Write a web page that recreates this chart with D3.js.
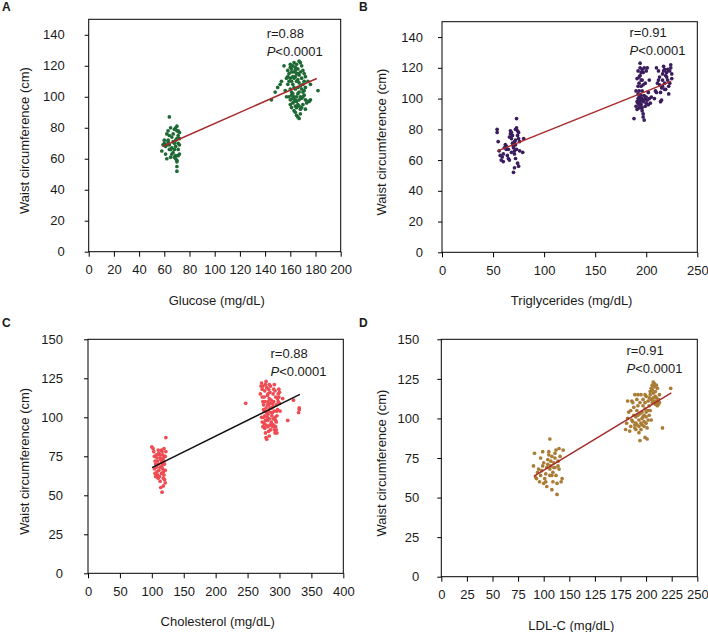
<!DOCTYPE html>
<html><head><meta charset="utf-8">
<script src="https://cdn.jsdelivr.net/npm/d3@7"></script>
<style>body{margin:0;background:#fff}svg{display:block}text{font-family:"Liberation Sans",Arial,sans-serif;fill:#1a1a1a}</style>
</head><body><svg id="c" width="708" height="632"></svg>
<script>
// ---------- data ----------
const glucosePts = [[64,87],[60,70],[59,69],[58,65],[61,68],[63,72],[62,76],[63,78],[65,80],[64,75],[66,74],[67,71],[68,70],[69,72],[70,73],[71,75],[70,78],[69,80],[70,81],[72,77],[71,70],[72,69],[68,66],[67,64],[66,63],[65,61],[62,60],[69,60],[70,59],[70,58],[71,62],[72,63],[70,55],[70,52],[66,67],[64,69],[60,72],[61,63],[63,71],[68,79],[71,78],[72,73],[69,68],[67,76],[65,66],[64,66],[62,69],[71,66],[69,62],[68,61],
[145,98],[148,103],[150,106],[152,108],[153,110],[156,104],[157,100],[155,120],[158,117],[159,115],[160,121],[161,118],[162,120],[163,122],[164,119],[165,121],[166,118],[167,123],[168,122],[169,120],[170,117],[171,115],[172,113],[174,110],[176,108],[182,104],[160,112],[161,110],[162,108],[163,112],[164,113],[165,110],[166,111],[167,109],[168,107],[169,105],[170,100],[171,101],[172,98],[174,97],[176,98],[160,105],[161,103],[162,102],[163,100],[164,98],[165,97],[166,95],[167,94],[168,92],[169,93],[170,95],[172,92],[173,96],[160,95],[161,93],[162,96],[163,91],[164,90],[165,88],[166,87],[167,86],[168,89],[165,100],[166,102],[167,103],[164,105],[163,106],[162,113],[161,116],[160,119],[159,110],[158,108],[159,100],[160,98],[161,101],[166,115],[167,114],[168,116],[169,112],[170,108],[171,110],[172,106],[163,116],[164,117],[165,115],[166,106],[167,98],[168,100],[169,99],[162,99],[163,97],[164,94],[165,93],[170,103],[171,104],[175,97],[158,113],[157,112]];
const triglyceridesPts = [[54,80],[54,78],[55,72],[56,66],[57,63],[58,60],[59,62],[60,64],[60,59],[61,68],[62,70],[63,69],[63,67],[64,63],[65,61],[66,60],[66,75],[67,77],[67,79],[68,78],[68,74],[69,76],[69,71],[70,70],[70,69],[70,68],[71,66],[71,72],[72,70],[72,73],[72,80],[73,81],[73,87],[74,79],[74,76],[75,78],[75,74],[76,72],[75,56],[74,58],[72,61],[71,64],[70,52],[71,55],[73,67],[76,66],[79,65],[80,74],[68,65],[65,67],
[188,87],[190,95],[191,98],[191,93],[192,100],[192,97],[192,103],[193,96],[193,94],[193,105],[193,110],[193,114],[194,120],[194,123],[194,115],[195,112],[195,108],[195,102],[195,99],[195,96],[196,100],[196,92],[196,94],[197,90],[197,88],[198,86],[198,99],[199,95],[200,97],[200,101],[201,99],[202,96],[202,104],[199,110],[197,117],[196,119],[198,120],[192,118],[191,113],[190,105],[194,101],[194,98],[194,96],[195,94],[193,99],[193,101],[196,105],[197,98],[198,102],[199,100],[192,108],[195,117],[197,109],[200,118],[203,100],[204,97],[205,101],[203,112],[201,120],[196,112],
[208,100],[209,105],[210,104],[211,110],[212,112],[213,114],[214,98],[215,99],[215,107],[216,108],[216,116],[217,118],[217,121],[218,119],[218,110],[219,115],[220,117],[220,114],[221,112],[222,108],[222,103],[223,118],[224,120],[224,122],[225,116],[225,113],[214,104],[213,109],[219,106],[221,119],[223,110],[210,120],[212,118],[216,112],[218,106]];
const cholesterolPts = [[100,81],[102,80],[103,78],[104,75],[105,72],[106,70],[107,68],[108,65],[109,63],[110,61],[110,79],[111,77],[112,76],[113,74],[114,73],[115,71],[116,69],[117,67],[118,65],[119,63],[120,60],[121,58],[115,79],[116,78],[117,76],[118,74],[119,72],[120,70],[121,75],[122,78],[122,87],[118,56],[116,52],[114,55],[113,59],[112,62],[111,66],[110,70],[109,72],[108,74],[107,76],[106,62],[105,64],[104,67],[119,80],[117,73],[113,68],[115,64],[118,61],[121,66],
[270,115],[271,120],[272,122],[273,118],[274,110],[275,105],[275,100],[276,96],[277,93],[278,90],[279,87],[280,86],[281,98],[282,102],[283,108],[284,112],[285,116],[286,120],[287,111],[288,106],[289,103],[290,99],[291,95],[292,92],[293,90],[294,94],[295,97],[296,101],[297,105],[298,110],[299,113],[300,109],[301,104],[272,100],[273,97],[274,94],[276,113],[277,117],[278,121],[279,123],[280,119],[281,114],[282,110],[283,104],[284,99],[285,95],[286,92],[287,97],[288,101],[289,109],[290,115],[291,118],[292,121],[293,117],[294,113],[295,108],[296,104],[279,106],[280,103],[281,100],[282,94],[283,91],[284,88],[285,106],[286,109],[287,103],[288,96],[289,94],[290,107],[291,110],[292,104],[293,100],[294,98],[295,92],[296,90],[297,112],[298,115],[299,118],[300,116],[275,108],[276,104],[277,101],[278,98],[279,95],[281,108],[282,115],[283,118],[284,121],[274,120],[273,113],[277,110],
[247,109],[313,98],[322,111],[330,103],[331,105],[331,106],[305,112]];
const ldlPts = [[90,70],[91,78],[92,63],[93,62],[94,66],[95,68],[96,60],[97,64],[98,67],[99,70],[100,72],[100,59],[101,62],[102,65],[103,69],[104,71],[104,74],[105,77],[105,79],[106,64],[106,87],[107,70],[107,73],[108,76],[108,55],[109,60],[109,66],[110,69],[110,72],[111,75],[111,78],[112,80],[112,64],[113,59],[113,52],[114,70],[114,73],[115,81],[116,76],[117,60],[118,62],[119,80],[102,60],[103,57],[97,75],[99,79],[108,64],[106,68],[111,69],[115,68],
[180,93],[181,97],[182,100],[182,111],[183,104],[184,92],[185,95],[186,99],[186,111],[187,98],[188,102],[188,107],[189,96],[189,94],[190,93],[190,97],[190,101],[191,105],[191,112],[192,115],[192,108],[193,91],[193,95],[193,99],[194,86],[194,103],[194,110],[195,115],[195,97],[195,93],[196,100],[196,104],[197,108],[197,112],[198,95],[198,98],[198,102],[199,110],[199,106],[199,88],[200,97],[200,101],[200,104],[201,87],[201,94],[202,99],[202,105],[203,108],[203,113],[204,115],[204,117],[205,119],[205,112],[206,121],[206,118],[206,110],[207,123],[207,116],[207,113],[208,120],[208,122],[208,111],[209,109],[209,117],[210,110],[210,113],[210,121],[211,108],[211,111],[212,109],[212,112],[213,110],[213,115],[216,94],[224,119],[185,105],[187,110],[189,115],[192,102],[191,96],[196,96],[197,101],[203,102],[204,105],[205,99],[202,111],[200,114],[199,115],[209,114],[211,119]];

const glucoseFit = [[58.7,67.9],[181,111.8]];
const triglyceridesFit = [[54,65.8],[224.2,111.2]];
const cholesterolFit = [[100.3,67.7],[332,114.7]];
const ldlFit = [[90.5,63.6],[224.6,116.2]];

const xTicksA = [0,20,40,60,80,100,120,140,160,180,200];
const xTicksB = [0,50,100,150,200,250];
const xTicksC = [0,50,100,150,200,250,300,350,400];
const xTicksD = [0,25,50,75,100,125,150,175,200,225,250];
const xTickLabelsD = ["0","25","50","75","100","150","125","175","200","225","250"];
const yTicksAB = [0,20,40,60,80,100,120,140];
const yTicksCD = [0,25,50,75,100,125,150];

const panelLetters = ["A","B","C","D"];
const xTitles = ["Glucose (mg/dL)","Triglycerides (mg/dL)","Cholesterol (mg/dL)","LDL-C (mg/dL)"];
const rTexts = ["r=0.88","r=0.91","r=0.88","r=0.91"];
const pValue = "<0.0001";

// ---------- layout ----------
const panels = [
  {pts:glucosePts, fit:glucoseFit, xd:[0,200], xt:xTicksA, yt:yTicksAB, L:88.7,R:340.7,T:19.3,B:251.7, col:"#1f6a34", line:"#a62b2b", lx:2, ly:11, rx:266.7, ry:37.5, gap:24, yt0:25},
  {pts:triglyceridesPts, fit:triglyceridesFit, xd:[0,250], xt:xTicksB, yt:yTicksAB, L:442,R:697.3,T:21.7,B:252.3, col:"#3b1d5e", line:"#a62b2b", lx:359, ly:11, rx:629.5, ry:36.8, gap:19, yt0:382},
  {pts:cholesterolPts, fit:cholesterolFit, xd:[0,400], xt:xTicksC, yt:yTicksCD, L:88,R:343.3,T:339.3,B:573.3, col:"#ee4b52", line:"#111", lx:2, ly:327, rx:270.5, ry:357.8, gap:25, yt0:25},
  {pts:ldlPts, fit:ldlFit, xd:[0,250], xt:xTicksD, yt:yTicksCD, L:441.3,R:697.3,T:339.3,B:576.7, col:"#a97b34", line:"#a62b2b", lx:359, ly:327, rx:626.5, ry:354.5, gap:22, yt0:382}
];

const svg = d3.select("#c");
panels.forEach((p,i)=>{
  const x = d3.scaleLinear().domain(p.xd).range([p.L,p.R]);
  const y = d3.scaleLinear().domain([0,150]).range([p.B,p.T]);
  const g = svg.append("g");
  g.append("rect").attr("x",p.L).attr("y",p.T).attr("width",p.R-p.L).attr("height",p.B-p.T)
    .attr("fill","none").attr("stroke","#000").attr("stroke-width",1);
  const xa = d3.axisBottom(x).tickValues(p.xt).tickSizeOuter(0).tickSizeInner(5).tickPadding(8);
  if (i===3) xa.tickFormat((d,k)=>xTickLabelsD[k]);
  else xa.tickFormat(d3.format("d"));
  const gx = g.append("g").attr("transform",`translate(0,${p.B})`).call(xa);
  gx.select(".domain").remove();
  gx.selectAll("line").attr("stroke","#000");
  gx.selectAll("text").attr("font-size",13).attr("fill","#1a1a1a").style("font-family","Liberation Sans, Arial, sans-serif");
  const ya = d3.axisLeft(y).tickValues(p.yt).tickSizeOuter(0).tickSizeInner(4).tickPadding(p.gap-4).tickFormat(d3.format("d"));
  const gy = g.append("g").attr("transform",`translate(${p.L},0)`).call(ya);
  gy.select(".domain").remove();
  gy.selectAll("line").attr("stroke","#000");
  gy.selectAll("text").attr("font-size",13).attr("fill","#1a1a1a").style("font-family","Liberation Sans, Arial, sans-serif");
  g.append("text").attr("x",(p.L+p.R)/2+2).attr("y",p.B+53).attr("text-anchor","middle").attr("font-size",13).text(xTitles[i]);
  g.append("text").attr("transform",`translate(${p.yt0+4},${(p.T+p.B)/2+5}) rotate(-90)`).attr("text-anchor","middle").attr("font-size",13).text("Waist circumference (cm)");
  g.append("text").attr("x",p.lx).attr("y",p.ly).attr("font-size",12).attr("font-weight","bold").attr("fill","#000").text(panelLetters[i]);
  g.append("g").selectAll("circle").data(p.pts).join("circle")
    .attr("cx",d=>x(d[0])).attr("cy",d=>y(d[1])).attr("r",1.85).attr("fill",p.col);
  g.append("path").attr("d",d3.line().x(d=>x(d[0])).y(d=>y(d[1]))(p.fit))
    .attr("stroke",p.line).attr("stroke-width",1.5).attr("fill","none");
  g.append("text").attr("x",p.rx).attr("y",p.ry).attr("font-size",13).text(rTexts[i]);
  const t = g.append("text").attr("x",p.rx).attr("y",p.ry+18).attr("font-size",13);
  t.append("tspan").attr("font-style","italic").text("P");
  t.append("tspan").text(pValue);
});
</script></body></html>
